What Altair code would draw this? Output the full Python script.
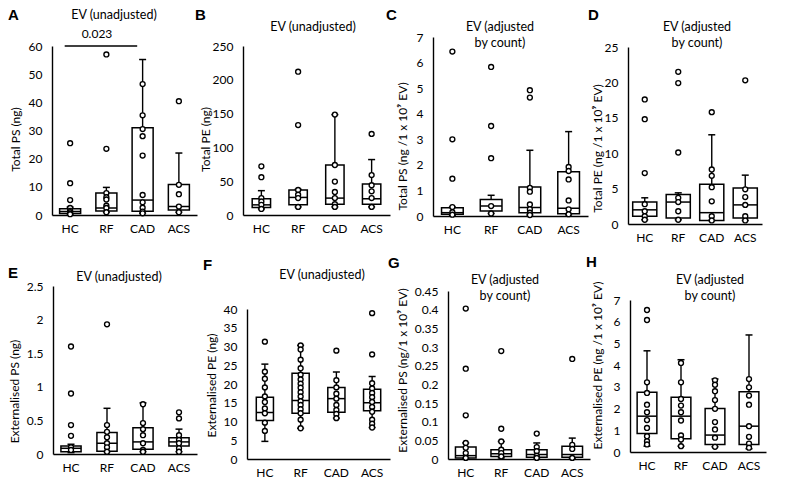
import altair as alt
import pandas as pd

GROUPS = ["HC", "RF", "CAD", "ACS"]

# ---------------- data ----------------
# box statistics per group: [lower whisker, Q1, median, Q3, upper whisker]

# A: Total PS (ng), EV unadjusted
A_points = {
    "HC": [25.5, 11.3, 5.3, 2.5, 1.5, 1.0, 0.5, 0.3],
    "RF": [57.0, 23.5, 7.8, 6.3, 5.5, 3.3, 2.5, 1.0],
    "CAD": [46.5, 35.4, 30.5, 28.0, 21.1, 7.1, 4.5, 2.6, 1.2, 0.6],
    "ACS": [40.4, 10.7, 7.4, 3.0, 1.0],
}
A_box = {"HC": [0.3, 0.5, 1.2, 2.2, 2.8], "RF": [1.0, 1.4, 2.5, 7.8, 9.8],
         "CAD": [0.6, 1.3, 5.3, 31.0, 55.2], "ACS": [1.0, 1.8, 3.0, 10.8, 22.0]}
A_ticks = [0, 10, 20, 30, 40, 50, 60]

# B: Total PE (ng), EV unadjusted
B_points = {
    "HC": [72, 56, 25, 20, 15, 9],
    "RF": [212, 133, 37, 30, 25, 12],
    "CAD": [148.5, 74, 49.5, 34, 25, 16, 12],
    "ACS": [120, 59, 44, 35, 25, 12],
}
B_box = {"HC": [9, 11, 15, 24, 36], "RF": [12, 15, 26, 37, 38],
         "CAD": [12, 16, 25, 74, 148.5], "ACS": [12, 16, 24, 46, 82]}
B_ticks = [0, 50, 100, 150, 200, 250]

# C: Total PS (ng / 1x10^9 EV), adjusted by count
C_points = {
    "HC": [6.43, 3.0, 1.46, 0.35, 0.15, 0.05],
    "RF": [5.83, 3.52, 2.26, 0.39, 0.1],
    "CAD": [4.92, 4.63, 1.1, 0.95, 0.45, 0.26, 0.13, 0.04],
    "ACS": [1.92, 1.76, 1.43, 0.61, 0.26, 0.07],
}
C_box = {"HC": [0.03, 0.07, 0.13, 0.32, 0.35], "RF": [0.1, 0.2, 0.39, 0.65, 0.81],
         "CAD": [0.04, 0.13, 0.33, 1.13, 2.57], "ACS": [0.05, 0.09, 0.3, 1.73, 3.3]}
C_ticks = [0, 1, 2, 3, 4, 5, 6, 7]

# D: Total PE (ng / 1x10^9 EV), adjusted by count
D_points = {
    "HC": [17.6, 14.8, 7.2, 2.8, 1.8, 1.1, 0.6],
    "RF": [21.5, 19.9, 10.1, 3.7, 3.1, 1.8, 0.6],
    "CAD": [15.8, 7.7, 6.8, 5.2, 3.2, 1.1, 0.5],
    "ACS": [20.3, 4.9, 3.8, 2.7, 1.1, 0.5],
}
D_box = {"HC": [0.6, 1.1, 2.0, 3.1, 3.7], "RF": [0.6, 0.85, 3.1, 4.15, 4.4],
         "CAD": [0.5, 0.5, 1.6, 5.6, 12.6], "ACS": [0.5, 0.85, 2.7, 5.1, 6.9]}
D_ticks = [0, 5, 10, 15, 20, 25]

# E: Externalised PS (ng), EV unadjusted
E_points = {
    "HC": [1.60, 0.90, 0.43, 0.27, 0.10, 0.06],
    "RF": [1.93, 0.43, 0.33, 0.25, 0.16, 0.10, 0.035],
    "CAD": [0.74, 0.46, 0.37, 0.28, 0.16, 0.06, 0.035],
    "ACS": [0.62, 0.53, 0.28, 0.21, 0.16, 0.085, 0.035],
}
E_box = {"HC": [0.02, 0.035, 0.085, 0.12, 0.145], "RF": [0.035, 0.04, 0.16, 0.32, 0.68],
         "CAD": [0.035, 0.07, 0.18, 0.39, 0.76], "ACS": [0.035, 0.12, 0.18, 0.24, 0.37]}
E_ticks = [0, 0.5, 1, 1.5, 2, 2.5]

# F: Externalised PE (ng), EV unadjusted
F_points = {
    "HC": [31.3, 23.3, 21.4, 19.1, 16.7, 15.2, 13.5, 12.2, 9.7, 7.5],
    "RF": [30.3, 29.2, 26.5, 24.2, 22.5, 21.2, 20.1, 19.0, 17.8, 16.7, 15.4, 14.4,
           13.3, 12.2, 10.5, 8.2],
    "CAD": [28.9, 21.0, 19.1, 17.4, 16.1, 14.4, 13.1, 12.0, 10.9],
    "ACS": [38.9, 27.9, 20.2, 18.8, 17.6, 16.5, 15.2, 13.9, 12.6, 10.5, 9.4, 8.4],
}
F_box = {"HC": [4.7, 10.3, 12.4, 16.5, 25.3], "RF": [8.2, 12.2, 15.6, 22.9, 30.3],
         "CAD": [10.9, 12.5, 16.1, 19.1, 23.2], "ACS": [8.4, 12.9, 15.0, 18.6, 22.0]}
F_ticks = [0, 5, 10, 15, 20, 25, 30, 35, 40]

# G: Externalised PS (ng / 1x10^9 EV), adjusted by count
G_points = {
    "HC": [0.403, 0.242, 0.117, 0.043, 0.03, 0.016, 0.003],
    "RF": [0.289, 0.081, 0.047, 0.025, 0.016, 0.007],
    "CAD": [0.068, 0.032, 0.021, 0.009, 0.003],
    "ACS": [0.268, 0.038, 0.027, 0.003],
}
G_box = {"HC": [0.002, 0.003, 0.009, 0.032, 0.043], "RF": [0.003, 0.007, 0.014, 0.025, 0.047],
         "CAD": [0.003, 0.005, 0.012, 0.025, 0.043], "ACS": [0.002, 0.005, 0.012, 0.034, 0.056]}
G_ticks = [0, 0.05, 0.1, 0.15, 0.2, 0.25, 0.3, 0.35, 0.4, 0.45]

# H: Externalised PE (ng / 1x10^9 EV), adjusted by count
H_points = {
    "HC": [6.54, 6.08, 3.21, 2.72, 2.18, 1.83, 1.47, 1.11, 0.73, 0.50, 0.35],
    "RF": [4.1, 3.21, 2.44, 2.14, 1.83, 1.45, 0.76, 0.58, 0.27],
    "CAD": [3.30, 3.10, 2.80, 2.39, 1.99, 1.38, 1.04, 0.66, 0.24],
    "ACS": [3.36, 2.98, 2.60, 2.18, 1.19, 0.70, 0.39, 0.20],
}
H_box = {"HC": [0.27, 0.85, 1.65, 2.75, 4.66], "RF": [0.27, 0.61, 1.65, 2.52, 4.25],
         "CAD": [0.24, 0.35, 0.78, 2.0, 3.36], "ACS": [0.15, 0.35, 1.19, 2.78, 5.39]}
H_ticks = [0, 1, 2, 3, 4, 5, 6, 7]

T_UNADJ = "EV (unadjusted)"
T_ADJ = "EV (adjusted\nby count)"

# significance annotation in panel A
SIG_FROM, SIG_TO, SIG_LEVEL, SIG_TEXT = "HC", "CAD", 60, "0.023"

FONT = "Lato"

# ---------------- layout (page pixel positions) ----------------
COL_LEFT = [52, 244, 436, 628]
ROW_TOP = [39, 288]
CELL_W, CELL_H = 150, 187
COL_GAP = COL_LEFT[1] - COL_LEFT[0] - CELL_W
ROW_GAP = ROW_TOP[1] - ROW_TOP[0] - CELL_H

# plot rectangle (left, top, width, height), box band, letter(x,y), title(cx,ty), ytitle(cx,cy)
LAYOUT = {
    "A": dict(col=0, row=0, left=52, top=48, w=145, h=169, band=0.58, letter=(8, 10), title=(114, 11), yt=(16, 141)),
    "B": dict(col=1, row=0, left=243, top=48, w=147, h=169, band=0.5, letter=(195, 10), title=(313, 23), yt=(206, 141)),
    "C": dict(col=2, row=0, left=433, top=39, w=155, h=179, band=0.56, letter=(386, 10), title=(500, 23), yt=(403, 148)),
    "D": dict(col=3, row=0, left=628, top=49, w=134, h=177, band=0.72, letter=(588, 10), title=(697, 23), yt=(598, 150)),
    "E": dict(col=0, row=1, left=53, top=288, w=144, h=168, band=0.56, letter=(8, 268), title=(119, 273), yt=(15, 393)),
    "F": dict(col=1, row=1, left=247, top=311, w=143, h=150, band=0.48, letter=(203, 260), title=(322, 271), yt=(212, 387)),
    "G": dict(col=2, row=1, left=448, top=293, w=142, h=168, band=0.58, letter=(388, 258), title=(505, 276), yt=(403, 372)),
    "H": dict(col=3, row=1, left=630, top=302, w=136, h=152, band=0.58, letter=(586, 257), title=(710, 276), yt=(598, 367)),
}


def panel(key, pts, box, ticks, ytitle, title, sig=False):
    L = LAYOUT[key]
    cx0, cy0 = COL_LEFT[L["col"]], ROW_TOP[L["row"]]
    w, h = L["w"], L["h"]
    x0 = L["left"] - cx0          # plot left inside the cell
    y0 = L["top"] - cy0           # plot top inside the cell
    step = w / 4.0
    pdf = pd.DataFrame([(g, v) for g in GROUPS for v in pts[g]], columns=["group", "value"])
    bdf = pd.DataFrame([dict(group=g, lo=box[g][0], q1=box[g][1], med=box[g][2],
                             q3=box[g][3], hi=box[g][4]) for g in GROUPS])
    xscale = alt.Scale(domain=GROUPS, paddingInner=0, paddingOuter=0, range=[x0, x0 + w])
    xaxis = alt.Axis(title=None, labelAngle=0, labelPadding=8, ticks=False, grid=False,
                     offset=(y0 + h) - CELL_H)
    xenc = alt.X("group:N", sort=GROUPS, scale=xscale, axis=xaxis)
    yscale = alt.Scale(domain=[0, ticks[-1]], nice=False, zero=True, range=[y0 + h, y0])
    yaxis = alt.Axis(values=ticks, labelExpr="'' + datum.value", title=ytitle, grid=False,
                     ticks=False, labelPadding=10, offset=-x0,
                     titleX=L["yt"][0] - L["left"] + 6, titleY=L["yt"][1] - cy0)

    def Y(f):
        return alt.Y(f"{f}:Q", scale=yscale, axis=yaxis)

    whisk = alt.Chart(bdf).mark_rule(color="black", strokeWidth=1.4).encode(
        x=xenc, y=Y("lo"), y2="hi")
    boxes = alt.Chart(bdf).mark_bar(fill="white", stroke="black", strokeWidth=1.5,
                                    width=alt.RelativeBandSize(L["band"])).encode(
        x=xenc, y=Y("q1"), y2="q3")
    med = alt.Chart(bdf).mark_tick(color="black", thickness=1.5, opacity=1,
                                   size=L["band"] * step).encode(x=xenc, y=Y("med"))
    cap_hi = alt.Chart(bdf).mark_tick(color="black", thickness=1.5, opacity=1, size=7).encode(
        x=xenc, y=Y("hi"))
    cap_lo = alt.Chart(bdf).mark_tick(color="black", thickness=1.5, opacity=1, size=7).encode(
        x=xenc, y=Y("lo"))
    dots = alt.Chart(pdf).mark_circle(size=24, fill="white", stroke="black", strokeWidth=1.4,
                                      opacity=1).encode(x=xenc, y=Y("value"))
    ttl = alt.Chart(pd.DataFrame({"t": [title]})).mark_text(
        font=FONT, fontSize=12.5, lineBreak="\n", lineHeight=16, align="center",
        baseline="top", color="black").encode(
        x=alt.value(L["title"][0] - cx0), y=alt.value(L["title"][1] - cy0), text="t:N")
    let = alt.Chart(pd.DataFrame({"t": [key]})).mark_text(
        font="Liberation Sans", fontSize=15, fontWeight="bold", align="left",
        baseline="top", color="black").encode(
        x=alt.value(L["letter"][0] - cx0), y=alt.value(L["letter"][1] - cy0), text="t:N")
    layers = [whisk, boxes, med, cap_hi, cap_lo, dots, ttl, let]
    if sig:
        sdf = pd.DataFrame({"g1": [SIG_FROM], "g2": [SIG_TO], "y": [SIG_LEVEL], "t": [SIG_TEXT]})
        srule = alt.Chart(sdf).mark_rule(color="black", strokeWidth=1.4).encode(
            x=alt.X("g1:N", sort=GROUPS, scale=xscale, axis=xaxis, bandPosition=0.35),
            x2=alt.X2("g2", bandPosition=0.35), y=Y("y"))
        stext = alt.Chart(sdf).mark_text(font=FONT, fontSize=12, color="black",
                                         baseline="middle", dy=-12).encode(
            x=alt.value(97 - cx0), y=Y("y"), text="t:N")
        layers += [srule, stext]
    return alt.layer(*layers).properties(width=CELL_W, height=CELL_H)


pA = panel("A", A_points, A_box, A_ticks, "Total PS (ng)", T_UNADJ, sig=True)
pB = panel("B", B_points, B_box, B_ticks, "Total PE (ng)", T_UNADJ)
pC = panel("C", C_points, C_box, C_ticks, "Total PS (ng /1 x 10⁹ EV)", T_ADJ)
pD = panel("D", D_points, D_box, D_ticks, "Total PE (ng /1 x 10⁹ EV)", T_ADJ)
pE = panel("E", E_points, E_box, E_ticks, "Externalised PS (ng)", T_UNADJ)
pF = panel("F", F_points, F_box, F_ticks, "Externalised PE (ng)", T_UNADJ)
pG = panel("G", G_points, G_box, G_ticks, "Externalised PS (ng/1 x 10⁹ EV)", T_ADJ)
pH = panel("H", H_points, H_box, H_ticks, "Externalised PE (ng /1 x 10⁹ EV)", T_ADJ)

chart = alt.concat(pA, pB, pC, pD, pE, pF, pG, pH, columns=4,
                   spacing={"row": ROW_GAP, "column": COL_GAP}, bounds="flush").resolve_scale(
    x="independent", y="independent").properties(padding=0).configure_view(
    stroke=None).configure_axis(
    labelFont=FONT, labelFontSize=12, labelColor="black", titleFont=FONT,
    titleFontSize=12, titleFontWeight="normal", titleColor="black",
    domainColor="black", domainWidth=1.4, grid=False)

chart.save("out.html", embed_options={"renderer": "svg", "actions": False})
